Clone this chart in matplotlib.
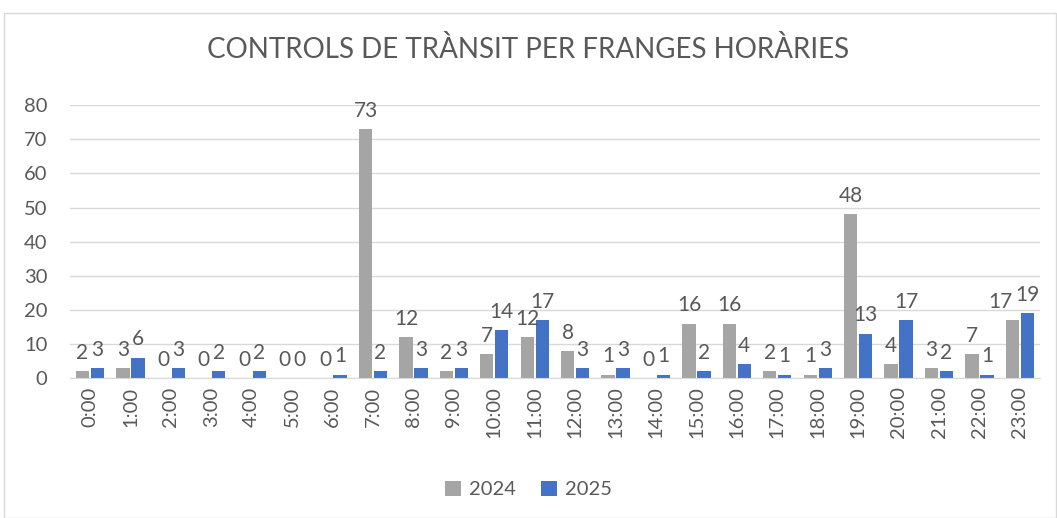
import matplotlib.pyplot as plt
import numpy as np
from matplotlib.patches import Rectangle

plt.rcParams['font.family'] = ['Lato', 'DejaVu Sans']

hours = ["%d:00" % h for h in range(24)]
v2024 = [2, 3, 0, 0, 0, 0, 0, 73, 12, 2, 7, 12, 8, 1, 0, 16, 16, 2, 1, 48, 4, 3, 7, 17]
v2025 = [3, 6, 3, 2, 2, 0, 1, 2, 3, 3, 14, 17, 3, 3, 1, 2, 4, 1, 3, 13, 17, 2, 1, 19]

txt = "#595959"
c24 = "#a5a5a5"
c25 = "#4472c4"

fig = plt.figure(figsize=(10.57, 5.18), dpi=100)
ax = fig.add_axes([0.066, 0.27, 0.918, 0.527])

x = np.arange(len(hours))
w = 0.33
b1 = ax.bar(x - 0.185, v2024, w, color=c24, label="2024", zorder=2)
b2 = ax.bar(x + 0.185, v2025, w, color=c25, label="2025", zorder=2)
l1 = ax.bar_label(b1, padding=6, fontsize=15, color=txt)
l2 = ax.bar_label(b2, padding=6, fontsize=15, color=txt)
# keep the last pair of labels from sitting on top of each other
l1[-1].set_horizontalalignment('right')
l1[-1].set_x(l1[-1].get_position()[0] + 0.12)

ax.set_ylim(0, 80)
ax.set_xlim(-0.5, 23.5)
ax.set_yticks(range(0, 81, 10))
ax.set_xticks(x)
ax.set_xticklabels(hours, rotation=90)
ax.tick_params(axis='both', length=0, labelsize=14.5, colors=txt)
ax.tick_params(axis='y', pad=16)
ax.tick_params(axis='x', pad=6)
ax.grid(axis='y', color="#d9d9d9", linewidth=1, zorder=0)
for s in ['top', 'right', 'left']:
    ax.spines[s].set_visible(False)
ax.spines['bottom'].set_color("#d9d9d9")

fig.text(0.5, 0.905, "CONTROLS DE TRÀNSIT PER FRANGES HORÀRIES",
         ha='center', va='center', fontsize=20, color=txt)

fig.legend(loc='center', bbox_to_anchor=(0.5, 0.055), ncol=2, frameon=False,
           fontsize=14.5, labelcolor=txt, handlelength=0.8, handleheight=0.8,
           handletextpad=0.4, columnspacing=1.2)

fig.patches.append(Rectangle((0.004, 0.0), 0.995, 0.975, transform=fig.transFigure,
                             fill=False, edgecolor="#d9d9d9", linewidth=1))

plt.savefig("out.png", dpi=100)
